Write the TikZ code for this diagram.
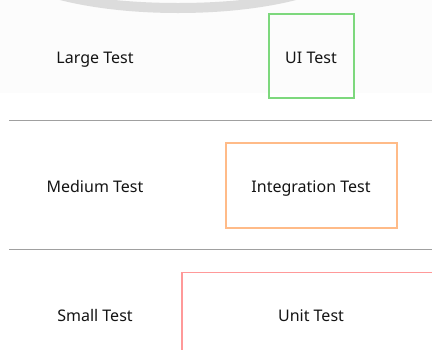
\documentclass[tikz,border=0pt]{standalone}
\usepackage{fontspec}
\setmainfont{Noto Sans}
\definecolor{txt}{HTML}{141414}
\definecolor{bandbg}{HTML}{FCFCFC}
\definecolor{arcgray}{HTML}{DCDCDC}
\definecolor{rule}{HTML}{A0A0A0}
\definecolor{gbox}{HTML}{7DD87D}
\definecolor{obox}{HTML}{FFBB88}
\definecolor{rbox}{HTML}{FF9999}
\tikzset{
  lbl/.style={text=txt, font=\fontsize{16}{19}\selectfont, inner sep=0pt, anchor=base},
  tbox/.style={line width=1.5pt},
  sep/.style={draw=rule, line width=1pt}
}
\begin{document}
\begin{tikzpicture}[x=1pt,y=-1pt]
\useasboundingbox (0,0) rectangle (432,349);
\fill[white] (0,0) rectangle (432,349);
\fill[bandbg] (0,0) rectangle (432,93);
\begin{scope}
\clip (0,0) rectangle (432,349);
\fill[arcgray, even odd rule] (178,-40) ellipse [x radius=180, y radius=53]
  (178,-40) ellipse [x radius=172, y radius=43];
\end{scope}
% separators
\coordinate (s1a) at (9,120); \coordinate (s1b) at (432,120);
\coordinate (s2a) at (9,249); \coordinate (s2b) at (432,249);
\draw[sep] (s1a) -- (s1b);
\draw[sep] (s2a) -- (s2b);
% boxes
\draw[tbox, draw=gbox] (269,14) rectangle (354,98);
\draw[tbox, draw=obox] (226,143) rectangle (397,228);
\draw[tbox, draw=rbox] (182,355) -- (182,272.5) -- (440,272.5);
% labels
\node[lbl] (large) at (95,63.3) {Large Test};
\node[lbl] (ui) at (311,63.3) {UI Test};
\node[lbl] (medium) at (95,192.3) {Medium Test};
\node[lbl] (integ) at (311,192.3) {Integration Test};
\node[lbl] (small) at (95,321.7) {Small Test};
\node[lbl] (unit) at (311,321.7) {Unit Test};
\end{tikzpicture}
\end{document}
